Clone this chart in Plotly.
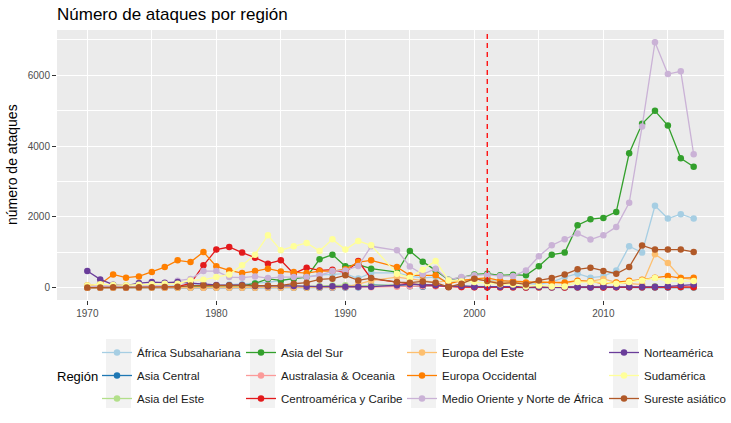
import plotly.graph_objects as go

years = [1970, 1971, 1972, 1973, 1974, 1975, 1976, 1977, 1978, 1979,
         1980, 1981, 1982, 1983, 1984, 1985, 1986, 1987, 1988, 1989,
         1990, 1991, 1992,
         1994, 1995, 1996, 1997, 1998, 1999,
         2000, 2001, 2002, 2003, 2004, 2005, 2006, 2007, 2008, 2009,
         2010, 2011, 2012, 2013, 2014, 2015, 2016, 2017]

regions = ["África Subsahariana", "Asia Central", "Asia del Este", "Asia del Sur",
           "Australasia & Oceania", "Centroamérica y Caribe", "Europa del Este",
           "Europa Occidental", "Medio Oriente y Norte de África", "Norteamérica",
           "Sudamérica", "Sureste asiático"]

colors = ["#A6CEE3", "#1F78B4", "#B2DF8A", "#33A02C", "#FB9A99", "#E31A1C",
          "#FDBF6F", "#FF7F00", "#CAB2D6", "#6A3D9A", "#FFFF99", "#B15928"]

africa_subsahariana = [10, 15, 20, 15, 25, 30, 40, 60, 80, 70,
                       60, 90, 100, 130, 150, 200, 250, 300, 360, 380,
                       400, 260, 420,
                       420, 330, 280, 300, 150, 200,
                       250, 200, 180, 180, 120, 100, 160, 302, 396, 283,
                       321, 490, 1171, 992, 2313, 1956, 2078, 1956]
asia_central = [0, 0, 0, 0, 0, 0, 0, 0, 0, 0,
                0, 0, 0, 0, 0, 0, 0, 0, 0, 1,
                3, 10, 80,
                60, 40, 30, 50, 40, 50,
                20, 15, 10, 10, 5, 8, 5, 5, 5, 8,
                10, 20, 10, 5, 5, 8, 10, 5]
asia_este = [5, 10, 15, 10, 8, 10, 10, 12, 10, 15,
             20, 30, 25, 40, 30, 50, 60, 40, 50, 60,
             70, 50, 60,
             80, 70, 100, 60, 50, 40,
             30, 20, 15, 20, 15, 10, 10, 15, 25, 30,
             40, 20, 20, 30, 40, 30, 20, 10]
asia_sur = [1, 2, 5, 3, 8, 10, 10, 15, 30, 40,
            55, 60, 50, 120, 250, 207, 255, 302, 802, 935,
            604, 651, 538,
            443, 1038, 737, 490, 226, 283,
            377, 396, 349, 368, 349, 604, 935, 992, 1766, 1936,
            1973, 2143, 3799, 4630, 4998, 4582, 3657, 3419]
australasia = [1, 1, 2, 1, 2, 3, 2, 4, 3, 2,
               5, 6, 8, 5, 7, 10, 12, 15, 10, 8,
               10, 20, 15,
               30, 45, 45, 45, 20, 15,
               10, 12, 8, 5, 5, 6, 4, 6, 10, 8,
               12, 14, 20, 10, 18, 25, 30, 40]
centroamerica = [7, 5, 10, 8, 12, 20, 15, 30, 120, 632,
                 1077, 1151, 992, 850, 680, 774, 396, 567, 490, 510,
                 420, 755, 255,
                 150, 110, 80, 60, 30, 20,
                 15, 10, 12, 10, 8, 10, 12, 8, 10, 12,
                 8, 10, 12, 10, 15, 12, 20, 15]
europa_este = [0, 0, 1, 1, 0, 1, 0, 1, 2, 1,
               0, 1, 1, 0, 1, 0, 1, 2, 5, 10,
               20, 100, 200,
               300, 250, 200, 150, 200, 200,
               250, 200, 150, 150, 120, 180, 160, 120, 200, 180,
               250, 150, 120, 90, 944, 698, 283, 226]
europa_occidental = [60, 100, 377, 283, 320, 443, 584, 774, 726, 1010,
                     604, 490, 414, 471, 538, 462, 443, 414, 471, 471,
                     520, 726, 774,
                     584, 349, 350, 349, 113, 200,
                     250, 280, 200, 180, 150, 150, 150, 150, 200, 180,
                     120, 150, 200, 226, 283, 330, 272, 283]
medio_oriente = [28, 55, 53, 19, 42, 44, 60, 200, 250, 470,
                 470, 300, 283, 320, 272, 300, 300, 300, 350, 471,
                 490, 613, 1171,
                 1057, 600, 377, 538, 226, 302,
                 349, 368, 330, 330, 490, 887, 1199, 1369, 1531, 1361,
                 1483, 1718, 2398, 4553, 6935, 6038, 6113, 3770]
norteamerica = [471, 235, 85, 60, 132, 160, 142, 160, 132, 100,
                80, 70, 80, 50, 40, 50, 50, 30, 30, 40,
                30, 30, 30,
                70, 100, 80, 80, 30, 50,
                30, 40, 30, 30, 20, 25, 15, 20, 20, 15,
                25, 20, 30, 25, 30, 40, 70, 90]
sudamerica = [65, 100, 80, 70, 85, 100, 113, 113, 207, 226,
              302, 377, 632, 935, 1483, 1057, 1171, 1265, 1038, 1369,
              1077, 1321, 1199,
              396, 283, 510, 755, 207, 179,
              160, 113, 100, 90, 37, 65, 37, 37, 160, 160,
              160, 113, 160, 207, 272, 188, 188, 188]
sureste_asiatico = [5, 8, 10, 8, 10, 15, 20, 25, 60, 65,
                    65, 65, 65, 60, 60, 65, 113, 142, 235, 255,
                    349, 207, 272,
                    160, 142, 179, 142, 17, 113,
                    255, 188, 113, 142, 94, 207, 272, 377, 519, 567,
                    471, 396, 584, 1195, 1077, 1077, 1077, 1010]

series = [africa_subsahariana, asia_central, asia_este, asia_sur, australasia,
          centroamerica, europa_este, europa_occidental, medio_oriente,
          norteamerica, sudamerica, sureste_asiatico]

event_year = 2001
x_ticks = [1970, 1980, 1990, 2000, 2010]
y_ticks = [0, 2000, 4000, 6000]

W, H = 731, 423
ML, MR, MT, MB = 57, 7, 30, 123
PW, PH = W - ML - MR, H - MT - MB


def pxx(px):
    return (px - ML) / PW


def pxy(py):
    return (H - MB - py) / PH


FONT = "Liberation Sans, Arial, sans-serif"

fig = go.Figure()
legend_names = ["legend", "legend2", "legend3", "legend4"]
for i, (name, col, vals) in enumerate(zip(regions, colors, series)):
    fig.add_trace(go.Scatter(
        x=years, y=vals, name=name, mode="lines+markers",
        line=dict(color=col, width=1.3),
        marker=dict(color=col, size=6.5),
        legend=legend_names[i // 3], legendgroup=name,
        hoverinfo="skip"))

xmin, xmax = min(years), max(years)
xr = xmax - xmin
ymax = max(max(s) for s in series)
ymin = 0
yr = ymax - ymin

fig.add_shape(type="line", xref="x", yref="paper", x0=event_year, x1=event_year,
              y0=0, y1=1, line=dict(color="#FF0000", width=1.3, dash="5px,4px"),
              layer="above")

col_text_x = [137, 281, 442, 644]
leg_top = 338
legend_cfg = {}
for j, ln in enumerate(legend_names):
    legend_cfg[ln] = dict(
        xref="container", yref="container",
        x=(col_text_x[j] - 40) / W, xanchor="left",
        y=1 - leg_top / H, yanchor="top",
        orientation="v", bgcolor="rgba(0,0,0,0)", borderwidth=0,
        font=dict(family=FONT, size=11.5, color="#1A1A1A"),
        tracegroupgap=4, itemclick=False, itemdoubleclick=False)
    fig.add_shape(type="rect", xref="paper", yref="paper",
                  x0=pxx(col_text_x[j] - 31), x1=pxx(col_text_x[j] - 6),
                  y0=pxy(339), y1=pxy(408),
                  fillcolor="#F2F2F2", line=dict(width=0), layer="below")

fig.add_annotation(text="Región", xref="paper", yref="paper",
                   x=pxx(55), y=pxy(376), xanchor="left", yanchor="middle",
                   showarrow=False, font=dict(family=FONT, size=13, color="#000000"))

fig.add_annotation(text="número de ataques", xref="paper", yref="paper",
                   x=pxx(12), y=0.5, xanchor="center", yanchor="middle",
                   textangle=-90, showarrow=False,
                   font=dict(family=FONT, size=14, color="#000000"))

fig.update_layout(
    width=W, height=H,
    margin=dict(l=ML, r=MR, t=MT, b=MB, pad=0, autoexpand=False),
    paper_bgcolor="white", plot_bgcolor="#EBEBEB",
    font=dict(family=FONT, size=11, color="#000000"),
    title=dict(text="Número de ataques por región", xref="container", yref="container",
               x=57 / W, xanchor="left", y=1 - 8 / H, yanchor="top",
               font=dict(family=FONT, size=17, color="#000000")),
    hovermode=False,
    **legend_cfg,
)

fig.update_xaxes(
    range=[xmin - 0.05 * xr, xmax + 0.05 * xr],
    tickmode="array", tickvals=x_ticks, ticktext=[str(v) for v in x_ticks],
    showgrid=True, gridcolor="white", gridwidth=1.1,
    minor=dict(tickmode="linear", tick0=1965, dtick=5, showgrid=True,
               gridcolor="white", gridwidth=0.5, ticks=""),
    ticks="outside", ticklen=4, tickcolor="#333333", tickwidth=1,
    tickfont=dict(family=FONT, size=10, color="#4D4D4D"),
    zeroline=False, showline=False, fixedrange=True)

fig.update_yaxes(
    range=[ymin - 0.05 * yr, ymax + 0.05 * yr],
    tickmode="array", tickvals=y_ticks, ticktext=[str(v) for v in y_ticks],
    showgrid=True, gridcolor="white", gridwidth=1.1,
    minor=dict(tickmode="linear", tick0=-1000, dtick=2000, showgrid=True,
               gridcolor="white", gridwidth=0.5, ticks=""),
    ticks="outside", ticklen=4, tickcolor="#333333", tickwidth=1,
    tickfont=dict(family=FONT, size=10, color="#4D4D4D"),
    zeroline=False, showline=False, fixedrange=True)

fig.write_html("out.html",
               config={"displayModeBar": False},
               post_script="document.body.style.margin='0';")
